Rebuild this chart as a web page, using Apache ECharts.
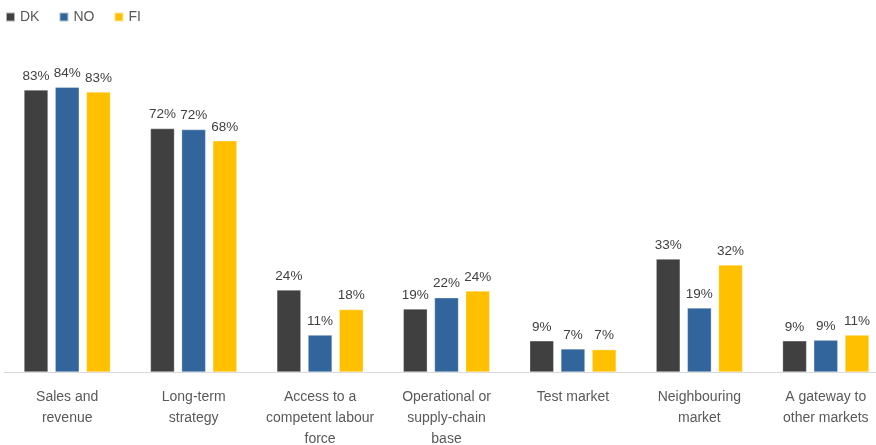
<!DOCTYPE html>
<html><head><meta charset="utf-8">
<script src="https://cdn.jsdelivr.net/npm/echarts@6/dist/echarts.min.js"></script>
<style>html,body{margin:0;padding:0;background:#fff}#c{width:876px;height:445px}</style>
</head><body><div id="c"></div>
<script>
var categories = ['Sales and\nrevenue','Long-term\nstrategy','Access to a\ncompetent labour\nforce','Operational or\nsupply-chain\nbase','Test market','Neighbouring\nmarket','A gateway to\nother markets'];
var seriesNames = ['DK','NO','FI'];
var dk = [83.2, 71.8, 24.2, 18.6, 9.2, 33.3, 9.2];
var no = [84.0, 71.5, 10.9, 21.9, 6.8, 18.9, 9.4];
var fi = [82.6, 68.2, 18.4, 23.9, 6.6, 31.6, 10.9];
var colors = ['#404040', '#31659b', '#ffc000'];

var font = '"Liberation Sans", Arial, sans-serif';
function mk(name, data, color){
  return {
    name: name, type: 'bar', data: data, barWidth: 24, barGap: '30%',
    itemStyle: {color: color, borderColor: 'rgba(255,255,255,0.6)', borderWidth: 0.5},
    label: {show: true, position: 'top', distance: 7, color: '#404040', fontSize: 13.5, fontFamily: font,
      formatter: function(p){ return Math.round(p.value) + '%'; }}
  };
}
var chart = echarts.init(document.getElementById('c'));
chart.setOption({
  animation: false,
  textStyle: {fontFamily: font},
  legend: {left: 0, top: 5, itemWidth: 9, itemHeight: 9, itemGap: 19, icon: 'rect',
    textStyle: {color: '#595959', fontSize: 14, fontFamily: font}, data: seriesNames},
  grid: {left: 4, width: 885, top: 33, bottom: 73, containLabel: false, outerBoundsMode: 'none'},
  xAxis: {type: 'category', data: categories,
    axisLine: {lineStyle: {color: '#d9d9d9', width: 1}}, axisTick: {show: false},
    axisLabel: {color: '#595959', fontSize: 14, lineHeight: 21, margin: 15, interval: 0, fontFamily: font}},
  yAxis: {type: 'value', min: 0, max: 100, show: false, splitLine: {show: false}},
  series: [mk('DK', dk, colors[0]), mk('NO', no, colors[1]), mk('FI', fi, colors[2])]
});
</script></body></html>
